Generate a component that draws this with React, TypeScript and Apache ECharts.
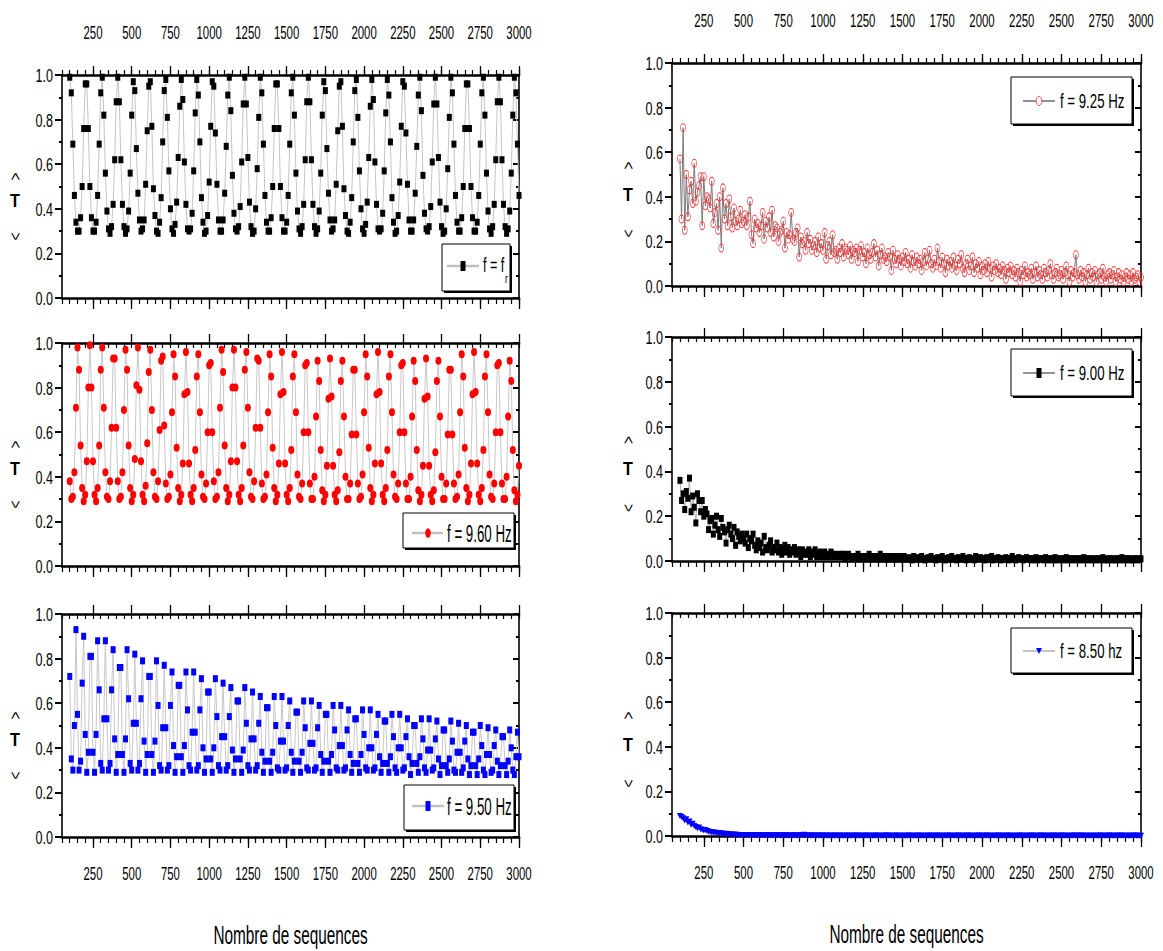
import React, { useEffect, useRef } from "react";
import * as echarts from "echarts";

const FONT = "'Liberation Sans', Arial, sans-serif";

const X_MIN = 50;
const X_MAX = 3000;
const X_FIRST = 100;
const X_STEP = 10;

const X_MAJOR_TICKS = [250, 500, 750, 1000, 1250, 1500, 1750, 2000, 2250, 2500, 2750, 3000];
const X_TICK_LABELS = ["250", "500", "750", "1000", "1250", "1500", "1750", "2000", "2250", "2500", "2750", "3000"];
const X_MINOR_TICKS = [
  50, 100, 150, 200, 250, 300, 350, 400, 450, 500, 550, 600, 650, 700, 750, 800, 850, 900, 950, 1000,
  1050, 1100, 1150, 1200, 1250, 1300, 1350, 1400, 1450, 1500, 1550, 1600, 1650, 1700, 1750, 1800, 1850, 1900, 1950, 2000,
  2050, 2100, 2150, 2200, 2250, 2300, 2350, 2400, 2450, 2500, 2550, 2600, 2650, 2700, 2750, 2800, 2850, 2900, 2950, 3000,
];
const Y_TICKS = [0, 0.2, 0.4, 0.6, 0.8, 1.0];
const Y_TICK_LABELS = ["0.0", "0.2", "0.4", "0.6", "0.8", "1.0"];

const SERIES_NAMES = ["f = fr", "f = 9.60 Hz", "f = 9.50 Hz", "f = 9.25 Hz", "f = 9.00 Hz", "f = 8.50 hz"];
const X_AXIS_TITLE = "Nombre de sequences";

// f = fr (top left)
const tFr = [
  0.99,0.92,0.69,0.46,0.34,0.30,0.30,0.36,0.50,0.76,0.96,0.96,0.76,0.50,0.36,0.30,0.30,0.34,0.46,0.69,0.92,0.99,0.82,0.56,0.39,0.31,0.29,0.32,0.42,0.62,0.88,0.99,0.88,0.62,0.42,0.32,0.29,0.31,0.39,0.56,0.82,
  0.97,0.93,0.67,0.47,0.35,0.30,0.31,0.35,0.51,0.75,0.95,0.97,0.77,0.49,0.37,0.30,0.29,0.34,0.45,0.70,0.93,0.98,0.81,0.57,0.40,0.31,0.29,0.33,0.43,0.63,0.86,0.98,0.89,0.61,0.42,0.31,0.30,0.31,0.38,0.57,0.83,
  0.98,0.91,0.70,0.45,0.34,0.29,0.30,0.37,0.52,0.77,0.97,0.95,0.74,0.51,0.35,0.30,0.30,0.35,0.47,0.68,0.91,0.99,0.84,0.55,0.38,0.31,0.30,0.32,0.41,0.61,0.87,0.99,0.87,0.63,0.43,0.32,0.29,0.30,0.40,0.58,0.81,
  0.99,0.92,0.69,0.46,0.34,0.30,0.30,0.36,0.50,0.76,0.96,0.96,0.76,0.50,0.36,0.30,0.30,0.34,0.46,0.69,0.92,0.99,0.82,0.56,0.39,0.31,0.29,0.32,0.42,0.62,0.88,0.99,0.88,0.62,0.42,0.32,0.29,0.31,0.39,0.56,0.82,
  0.97,0.93,0.67,0.47,0.35,0.30,0.31,0.35,0.51,0.75,0.95,0.97,0.77,0.49,0.37,0.30,0.29,0.34,0.45,0.70,0.93,0.98,0.81,0.57,0.40,0.31,0.29,0.33,0.43,0.63,0.86,0.98,0.89,0.61,0.42,0.31,0.30,0.31,0.38,0.57,0.83,
  0.98,0.91,0.70,0.45,0.34,0.29,0.30,0.37,0.52,0.77,0.97,0.95,0.74,0.51,0.35,0.30,0.30,0.35,0.47,0.68,0.91,0.99,0.84,0.55,0.38,0.31,0.30,0.32,0.41,0.61,0.87,0.99,0.87,0.63,0.43,0.32,0.29,0.30,0.40,0.58,0.81,
  0.99,0.92,0.69,0.46,0.34,0.30,0.30,0.36,0.50,0.76,0.96,0.96,0.76,0.50,0.36,0.30,0.30,0.34,0.46,0.69,0.92,0.99,0.82,0.56,0.39,0.31,0.29,0.32,0.42,0.62,0.88,0.99,0.88,0.62,0.42,0.32,0.29,0.31,0.39,0.56,0.82,
  0.99,0.92,0.69,0.46,
];

// f = 9.60 Hz (middle left)
const t960 = [
  0.38,0.30,0.31,0.42,0.71,0.98,0.88,0.54,0.35,0.29,0.32,0.47,0.80,0.99,0.80,0.47,0.32,0.29,0.35,0.54,0.88,0.98,0.71,0.42,0.31,0.30,0.38,0.62,0.93,0.93,0.62,
  0.38,0.30,0.31,0.42,0.70,0.97,0.88,0.54,0.35,0.29,0.32,0.48,0.81,0.98,0.79,0.47,0.32,0.29,0.36,0.55,0.87,0.97,0.70,0.42,0.31,0.30,0.38,0.61,0.92,0.94,0.63,
  0.37,0.30,0.31,0.41,0.69,0.95,0.85,0.53,0.35,0.29,0.32,0.46,0.77,0.96,0.78,0.46,0.32,0.29,0.35,0.52,0.85,0.95,0.69,0.41,0.31,0.30,0.37,0.60,0.90,0.91,0.60,
  0.38,0.30,0.31,0.42,0.71,0.97,0.87,0.54,0.35,0.29,0.32,0.47,0.80,0.97,0.80,0.47,0.32,0.29,0.35,0.54,0.88,0.96,0.71,0.42,0.31,0.30,0.38,0.62,0.93,0.92,0.62,
  0.37,0.30,0.31,0.41,0.69,0.95,0.85,0.53,0.35,0.29,0.32,0.46,0.77,0.96,0.78,0.46,0.32,0.29,0.35,0.52,0.85,0.95,0.69,0.41,0.31,0.30,0.37,0.60,0.90,0.91,0.60,
  0.37,0.30,0.30,0.40,0.67,0.92,0.83,0.52,0.34,0.29,0.32,0.45,0.75,0.93,0.76,0.45,0.32,0.29,0.34,0.51,0.83,0.92,0.67,0.40,0.30,0.30,0.37,0.59,0.88,0.88,0.59,
  0.37,0.30,0.31,0.41,0.69,0.95,0.85,0.53,0.35,0.29,0.32,0.46,0.77,0.96,0.78,0.46,0.32,0.29,0.35,0.52,0.85,0.95,0.69,0.41,0.31,0.30,0.37,0.60,0.90,0.91,0.60,
  0.37,0.30,0.30,0.40,0.67,0.92,0.83,0.52,0.34,0.29,0.32,0.45,0.75,0.93,0.76,0.45,0.32,0.29,0.34,0.51,0.83,0.92,0.67,0.40,0.30,0.30,0.37,0.59,0.88,0.88,0.59,
  0.37,0.30,0.31,0.41,0.69,0.95,0.85,0.53,0.35,0.29,0.32,0.46,0.77,0.96,0.78,0.46,0.32,0.29,0.35,0.52,0.85,0.95,0.69,0.41,0.31,0.30,0.37,0.60,0.90,0.91,0.60,
  0.37,0.30,0.30,0.40,0.67,0.92,0.83,0.52,0.34,0.29,0.32,0.45,
];

// f = 9.50 Hz (bottom left)
const t950 = [
  0.72,0.35,0.30,0.50,0.93,0.55,0.30,0.34,0.69,0.90,0.46,0.29,0.38,0.81,0.81,0.38,0.29,0.46,0.88,
  0.66,0.33,0.30,0.53,0.88,0.53,0.30,0.33,0.66,0.84,0.44,0.29,0.37,0.76,0.76,0.37,0.29,0.44,0.84,
  0.62,0.33,0.30,0.51,0.82,0.51,0.30,0.33,0.62,0.79,0.43,0.29,0.37,0.72,0.72,0.37,0.29,0.43,0.79,
  0.59,0.32,0.30,0.49,0.77,0.49,0.30,0.32,0.59,0.74,0.41,0.29,0.36,0.68,0.68,0.36,0.29,0.41,0.74,
  0.57,0.32,0.30,0.47,0.74,0.47,0.30,0.32,0.57,0.71,0.40,0.29,0.35,0.65,0.65,0.35,0.29,0.40,0.71,
  0.54,0.32,0.30,0.45,0.69,0.45,0.30,0.32,0.54,0.67,0.39,0.29,0.35,0.61,0.61,0.35,0.29,0.39,0.67,
  0.51,0.32,0.30,0.44,0.65,0.44,0.30,0.32,0.51,0.63,0.38,0.29,0.34,0.58,0.58,0.34,0.29,0.38,0.63,
  0.50,0.31,0.30,0.43,0.63,0.43,0.30,0.31,0.50,0.61,0.38,0.29,0.34,0.56,0.56,0.34,0.29,0.38,0.61,
  0.49,0.31,0.30,0.42,0.61,0.42,0.30,0.31,0.49,0.59,0.37,0.29,0.34,0.55,0.55,0.34,0.29,0.37,0.59,
  0.48,0.31,0.30,0.41,0.59,0.41,0.30,0.31,0.48,0.57,0.37,0.29,0.33,0.53,0.53,0.33,0.29,0.37,0.57,
  0.46,0.31,0.30,0.40,0.57,0.40,0.30,0.31,0.46,0.55,0.36,0.29,0.33,0.52,0.52,0.33,0.29,0.36,0.55,
  0.45,0.31,0.29,0.40,0.55,0.40,0.30,0.31,0.45,0.53,0.36,0.28,0.33,0.50,0.50,0.33,0.29,0.36,0.53,
  0.44,0.31,0.29,0.39,0.53,0.39,0.30,0.31,0.44,0.52,0.35,0.28,0.32,0.48,0.48,0.32,0.29,0.35,0.52,
  0.43,0.30,0.29,0.38,0.51,0.38,0.29,0.31,0.43,0.50,0.35,0.28,0.32,0.47,0.47,0.32,0.28,0.35,0.50,
  0.41,0.30,0.28,0.37,0.49,0.37,0.29,0.30,0.41,0.48,0.34,0.28,0.32,0.45,0.45,0.32,0.28,0.34,0.48,
  0.40,0.30,0.28,0.36,0.47,0.36,
];

// f = 9.25 Hz (top right)
const t925 = [
  0.57,0.30,0.71,0.25,0.50,0.31,0.43,0.47,0.37,0.55,
  0.38,0.42,0.45,0.49,0.27,0.49,0.36,0.40,0.39,0.35,
  0.47,0.28,0.33,0.37,0.25,0.40,0.17,0.44,0.30,0.37,
  0.27,0.39,0.31,0.26,0.35,0.29,0.27,0.30,0.34,0.28,
  0.29,0.32,0.27,0.31,0.38,0.23,0.19,0.30,0.26,0.28,
  0.24,0.27,0.33,0.21,0.29,0.26,0.31,0.24,0.34,0.22,
  0.27,0.26,0.20,0.24,0.25,0.29,0.17,0.24,0.21,0.23,
  0.33,0.21,0.20,0.24,0.26,0.13,0.22,0.19,0.20,0.16,
  0.24,0.19,0.21,0.16,0.18,0.20,0.15,0.22,0.17,0.19,
  0.16,0.24,0.12,0.18,0.20,0.14,0.23,0.15,0.16,0.12,
  0.17,0.15,0.19,0.13,0.17,0.16,0.14,0.18,0.12,0.16,
  0.15,0.17,0.11,0.16,0.18,0.13,0.15,0.10,0.17,0.14,
  0.12,0.15,0.19,0.13,0.16,0.09,0.14,0.17,0.12,0.13,
  0.11,0.15,0.13,0.07,0.16,0.12,0.10,0.14,0.12,0.09,
  0.13,0.11,0.15,0.10,0.12,0.08,0.14,0.11,0.09,0.13,
  0.10,0.12,0.07,0.11,0.15,0.09,0.12,0.16,0.10,0.08,
  0.12,0.09,0.17,0.11,0.08,0.13,0.10,0.06,0.12,0.09,
  0.11,0.08,0.13,0.09,0.07,0.12,0.10,0.14,0.08,0.06,
  0.10,0.12,0.07,0.09,0.13,0.06,0.10,0.08,0.11,0.05,
  0.09,0.07,0.10,0.06,0.11,0.08,0.04,0.09,0.07,0.10,
  0.06,0.08,0.05,0.09,0.07,0.03,0.08,0.06,0.09,0.05,
  0.07,0.04,0.08,0.06,0.02,0.07,0.05,0.09,0.04,0.06,
  0.05,0.08,0.03,0.06,0.09,0.04,0.07,0.05,0.03,0.08,
  0.06,0.04,0.07,0.10,0.05,0.03,0.06,0.08,0.04,0.05,
  0.07,0.03,0.06,0.09,0.05,0.02,0.07,0.04,0.06,0.14,
  0.05,0.03,0.07,0.04,0.06,0.02,0.05,0.08,0.03,0.06,
  0.04,0.07,0.02,0.05,0.06,0.03,0.08,0.04,0.02,0.05,
  0.06,0.03,0.05,0.07,0.02,0.04,0.06,0.03,0.05,0.02,
  0.04,0.06,0.03,0.05,0.02,0.06,0.03,0.04,0.05,0.02,
  0.04,
];

// f = 9.00 Hz (middle right)
const t900 = [
  0.36,0.27,0.30,0.23,0.31,0.28,0.37,0.22,0.29,0.24,
  0.17,0.30,0.27,0.22,0.27,0.20,0.23,0.21,0.14,0.18,
  0.19,0.12,0.16,0.20,0.14,0.11,0.19,0.15,0.13,0.08,
  0.14,0.16,0.12,0.10,0.15,0.07,0.13,0.11,0.09,0.12,
  0.10,0.08,0.12,0.06,0.10,0.09,0.12,0.07,0.05,0.09,
  0.06,0.08,0.04,0.11,0.06,0.05,0.07,0.09,0.04,0.06,
  0.05,0.08,0.04,0.06,0.03,0.05,0.07,0.04,0.06,0.03,
  0.05,0.04,0.06,0.03,0.05,0.04,0.02,0.05,0.03,0.04,
  0.03,0.05,0.02,0.04,0.03,0.05,0.02,0.03,0.04,0.02,
  0.03,0.04,0.02,0.03,0.02,0.04,0.03,0.02,0.03,0.02,
  0.02,0.03,0.02,0.03,0.01,0.02,0.03,0.02,0.01,0.02,
  0.02,0.01,0.03,0.02,0.01,0.02,0.02,0.01,0.02,0.03,
  0.01,0.02,0.01,0.02,0.02,0.01,0.03,0.01,0.02,0.01,
  0.02,0.01,0.01,0.02,0.01,0.02,0.01,0.01,0.02,0.01,
  0.01,0.02,0.01,0.01,0.015,0.01,0.005,0.02,0.01,0.01,
  0.015,0.01,0.02,0.01,0.005,0.01,0.015,0.01,0.02,0.01,
  0.01,0.005,0.015,0.01,0.01,0.02,0.01,0.005,0.01,0.015,
  0.01,0.02,0.01,0.01,0.005,0.015,0.01,0.01,0.02,0.01,
  0.005,0.01,0.015,0.01,0.01,0.005,0.02,0.01,0.01,0.015,
  0.01,0.01,0.005,0.015,0.01,0.01,0.02,0.005,0.01,0.01,
  0.015,0.01,0.005,0.01,0.01,0.015,0.01,0.005,0.01,0.02,
  0.01,0.005,0.01,0.015,0.01,0.01,0.005,0.01,0.015,0.01,
  0.01,0.01,0.005,0.01,0.015,0.005,0.01,0.01,0.01,0.005,
  0.015,0.01,0.005,0.01,0.01,0.005,0.015,0.01,0.005,0.01,
  0.01,0.005,0.01,0.015,0.005,0.01,0.01,0.005,0.01,0.01,
  0.005,0.01,0.01,0.005,0.015,0.01,0.005,0.01,0.01,0.005,
  0.01,0.005,0.01,0.01,0.005,0.01,0.015,0.005,0.01,0.005,
  0.01,0.01,0.005,0.01,0.005,0.01,0.01,0.005,0.015,0.01,
  0.005,0.01,0.01,0.005,0.01,0.005,0.01,0.01,0.005,0.01,
  0.01,
];

// f = 8.50 hz (bottom right)
const t850 = [
  0.09,0.085,0.08,0.07,0.075,0.06,0.065,0.05,0.055,0.045,
  0.04,0.035,0.038,0.03,0.028,0.025,0.027,0.022,0.02,0.018,
  0.017,0.015,0.016,0.013,0.012,0.014,0.011,0.01,0.009,0.01,
  0.008,0.008,0.007,0.007,0.006,0.006,0.006,0.005,0.005,0.005,
  0.004,0.005,0.004,0.004,0.003,0.004,0.004,0.003,0.003,0.004,
  0.003,0.003,0.004,0.003,0.003,0.002,0.003,0.003,0.002,0.003,
  0.003,0.002,0.003,0.002,0.002,0.003,0.002,0.002,0.002,0.002,
  0.002,0.002,0.003,0.002,0.002,0.002,0.003,0.004,0.006,0.003,
  0.002,0.002,0.002,0.001,0.002,0.002,0.001,0.002,0.002,0.001,
  0.002,0.001,0.002,0.001,0.001,0.002,0.001,0.001,0.002,0.001,
  0.001,0.002,0.001,0.001,0.001,0.002,0.001,0.001,0.001,0.002,
  0.001,0.001,0.002,0.001,0.001,0.001,0.001,0.002,0.001,0.001,
  0.001,0.001,0.001,0.002,0.001,0.001,0.001,0.001,0.001,0.002,
  0.001,0.002,0.001,0.001,0.001,0.001,0.002,0.001,0.001,0.001,
  0.001,0.001,0.001,0.001,0.002,0.001,0.001,0.001,0.001,0.001,
  0.002,0.001,0.001,0.001,0.001,0.001,0.001,0.002,0.001,0.001,
  0.001,0.001,0.002,0.001,0.001,0.001,0.001,0.001,0.001,0.002,
  0.001,0.001,0.001,0.001,0.001,0.002,0.001,0.001,0.001,0.001,
  0.001,0.002,0.001,0.001,0.001,0.001,0.001,0.001,0.002,0.001,
  0.001,0.001,0.001,0.002,0.001,0.001,0.001,0.001,0.001,0.001,
  0.002,0.001,0.001,0.001,0.001,0.001,0.002,0.001,0.001,0.001,
  0.001,0.001,0.001,0.001,0.002,0.001,0.001,0.001,0.001,0.001,
  0.001,0.002,0.001,0.001,0.001,0.001,0.001,0.002,0.001,0.001,
  0.001,0.001,0.001,0.001,0.001,0.002,0.001,0.001,0.001,0.001,
  0.002,0.001,0.001,0.001,0.001,0.001,0.001,0.001,0.002,0.001,
  0.001,0.001,0.002,0.001,0.001,0.001,0.001,0.001,0.001,0.001,
  0.001,0.001,0.001,0.001,0.002,0.001,0.001,0.001,0.001,0.001,
  0.002,0.001,0.001,0.001,0.001,0.001,0.001,0.002,0.001,0.001,
  0.001,0.001,0.001,0.001,0.001,0.001,0.002,0.001,0.001,0.001,
  0.001,
];

const SERIES_VALUES = [tFr, t960, t950, t925, t900, t850];

const ELLIPSE = "path://M5,0A5,5 0 1,1 5,10A5,5 0 1,1 5,0Z";
const TRI_DOWN = "path://M0,0L10,0L5,9Z";

const STYLES = [
  { symbol: "rect", size: [5, 7], fill: "#000000", border: "#000000", line: "#c4c4c4", kind: "rect", legendLine: "#c0c0c0" },
  { symbol: ELLIPSE, size: [6, 8], fill: "#ff0000", border: "#ff0000", line: "#c8c8c8", kind: "ellipse", legendLine: "#c0c0c0" },
  { symbol: "rect", size: [5, 7], fill: "#0000ff", border: "#0000ff", line: "#c8c8c8", kind: "rect", legendLine: "#c0c0c0" },
  { symbol: ELLIPSE, size: [5, 8], fill: "rgba(255,255,255,0)", border: "#ff3030", line: "#7c7c7c", kind: "hollow", legendLine: "#6a6a6a" },
  { symbol: "rect", size: [5, 7], fill: "#000000", border: "#000000", line: "#b0b0b0", kind: "rect", legendLine: "#707070" },
  { symbol: TRI_DOWN, size: [6, 6], fill: "#0000ff", border: "#0000ff", line: "#b4b4b4", kind: "tri", legendLine: "#b0b0b0" },
];

const LAYOUT = [
  { left: 62, top: 75, width: 457, height: 223, topLabels: true, bottomLabels: false },
  { left: 62, top: 343, width: 457, height: 223, topLabels: false, bottomLabels: false },
  { left: 62, top: 614, width: 457, height: 223, topLabels: false, bottomLabels: true },
  { left: 672, top: 63, width: 469, height: 223, topLabels: true, bottomLabels: false },
  { left: 672, top: 337, width: 469, height: 224, topLabels: false, bottomLabels: false },
  { left: 672, top: 613, width: 469, height: 223, topLabels: false, bottomLabels: true },
];

const LEGEND_BOXES = [
  { x: 442, y: 244, w: 68, h: 47, cy: 22, l0: 5, l1: 37, sx: 21, tx: 41, fs: 21, sc: 0.6 },
  { x: 403, y: 513, w: 111, h: 35, cy: 20, l0: 9, l1: 40, sx: 25, tx: 44, fs: 24, sc: 0.555 },
  { x: 404, y: 785, w: 110, h: 45, cy: 21, l0: 8, l1: 40, sx: 24, tx: 43, fs: 24, sc: 0.555 },
  { x: 1011, y: 77, w: 121, h: 47, cy: 24, l0: 12, l1: 44, sx: 28, tx: 49, fs: 21, sc: 0.63 },
  { x: 1011, y: 349, w: 121, h: 47, cy: 24, l0: 12, l1: 44, sx: 28, tx: 49, fs: 21, sc: 0.63 },
  { x: 1011, y: 628, w: 121, h: 45, cy: 23, l0: 12, l1: 44, sx: 28, tx: 49, fs: 21, sc: 0.63 },
];

const TXT_SCALE = 0.6;

function txt(text: string, x: number, y: number, size: number, scaleX: number, align: string, extra: any = {}) {
  return {
    type: "text",
    x,
    y,
    scaleX,
    z: 100,
    silent: true,
    ...extra,
    style: {
      text,
      fill: "#000",
      font: `${extra.weight || "normal"} ${size}px ${FONT}`,
      textAlign: align,
      align,
      textVerticalAlign: "middle",
      verticalAlign: "middle",
      ...(extra.style || {}),
    },
  };
}

function buildOption() {
  const grid: any[] = [];
  const xAxis: any[] = [];
  const yAxis: any[] = [];
  const series: any[] = [];

  LAYOUT.forEach((L, i) => {
    grid.push({ left: L.left, top: L.top, width: L.width, height: L.height, containLabel: false, show: false });
    const base = { gridIndex: i, type: "value", min: X_MIN, max: X_MAX, splitLine: { show: false } };
    // bottom: major + minor ticks, outward
    xAxis.push({
      ...base,
      position: "bottom",
      axisLine: { show: true, onZero: false, lineStyle: { color: "#000", width: 2.5 } },
      axisTick: { show: true, customValues: X_MAJOR_TICKS, length: 11, lineStyle: { color: "#000", width: 1.3 } },
      axisLabel: { show: false },
    });
    xAxis.push({
      ...base,
      position: "bottom",
      axisLine: { show: false, onZero: false },
      axisTick: { show: true, customValues: X_MINOR_TICKS, length: 6, lineStyle: { color: "#000", width: 1.2 } },
      axisLabel: { show: false },
    });
    // top: major outward, minor outward on labelled top panels, inward elsewhere
    xAxis.push({
      ...base,
      position: "top",
      axisLine: { show: true, onZero: false, lineStyle: { color: "#000", width: 2.5 } },
      axisTick: { show: true, customValues: X_MAJOR_TICKS, length: 9, lineStyle: { color: "#000", width: 1.3 } },
      axisLabel: { show: false },
    });
    xAxis.push({
      ...base,
      position: "top",
      axisLine: { show: false, onZero: false },
      axisTick: { show: true, inside: !L.topLabels, customValues: X_MINOR_TICKS, length: 5, lineStyle: { color: "#000", width: 1.2 } },
      axisLabel: { show: false },
    });

    yAxis.push({
      gridIndex: i, type: "value", min: 0, max: 1, interval: 0.2, position: "left",
      splitLine: { show: false },
      axisLine: { show: true, onZero: false, lineStyle: { color: "#000", width: 1.6 } },
      axisTick: { show: true, length: 7, lineStyle: { color: "#000", width: 2 } },
      minorTick: { show: true, splitNumber: 2, length: 3, lineStyle: { color: "#000", width: 2 } },
      axisLabel: { show: false },
    });
    yAxis.push({
      gridIndex: i, type: "value", min: 0, max: 1, interval: 0.2, position: "right",
      splitLine: { show: false },
      axisLine: { show: true, onZero: false, lineStyle: { color: "#000", width: 1.6 } },
      axisTick: { show: true, inside: true, length: 6, lineStyle: { color: "#000", width: 2 } },
      minorTick: { show: true, splitNumber: 2, length: 3, lineStyle: { color: "#000", width: 2 } },
      axisLabel: { show: false },
    });

    const st = STYLES[i];
    const vals = SERIES_VALUES[i];
    series.push({
      type: "line",
      name: SERIES_NAMES[i],
      xAxisIndex: i * 4,
      yAxisIndex: i * 2,
      data: vals.map((v, k) => [X_FIRST + k * X_STEP, v]),
      symbol: st.symbol,
      symbolSize: st.size,
      showSymbol: true,
      showAllSymbol: true,
      lineStyle: { color: st.line, width: 1 },
      itemStyle: { color: st.fill, borderColor: st.border, borderWidth: st.kind === "hollow" ? 0.8 : 0 },
      emphasis: { disabled: true },
      silent: true,
      clip: true,
      z: 3,
    });
  });

  return { animation: false, backgroundColor: "#ffffff", grid, xAxis, yAxis, series };
}

function legendSymbol(kind: string, cx: number, cy: number, color: string) {
  if (kind === "rect") return { type: "rect", z: 102, silent: true, shape: { x: cx - 2.5, y: cy - 5, width: 5, height: 10 }, style: { fill: color } };
  if (kind === "ellipse") return { type: "ellipse", z: 102, silent: true, shape: { cx, cy, rx: 2.8, ry: 4.8 }, style: { fill: color } };
  if (kind === "hollow") return { type: "ellipse", z: 102, silent: true, shape: { cx, cy, rx: 2.8, ry: 4.6 }, style: { fill: "#fff", stroke: color, lineWidth: 0.8 } };
  return { type: "polygon", z: 102, silent: true, shape: { points: [[cx - 3, cy - 3], [cx + 3, cy - 3], [cx, cy + 3]] }, style: { fill: color } };
}

function buildGraphics(chart: any) {
  const g: any[] = [];
  LAYOUT.forEach((L, i) => {
    const xi = i * 4;
    const yi = i * 2;
    const yBottom = chart.convertToPixel({ yAxisIndex: yi }, 0);
    const yTop = chart.convertToPixel({ yAxisIndex: yi }, 1);
    const xLeft = chart.convertToPixel({ xAxisIndex: xi }, X_MIN);
    const xRight = chart.convertToPixel({ xAxisIndex: xi }, X_MAX);

    if (L.topLabels || L.bottomLabels) {
      X_MAJOR_TICKS.forEach((v, k) => {
        const px = chart.convertToPixel({ xAxisIndex: xi }, v);
        const py = L.topLabels ? yTop - 43 : yBottom + 36;
        g.push(txt(X_TICK_LABELS[k], px, py, 19, TXT_SCALE, "center"));
      });
    }
    Y_TICKS.forEach((v, k) => {
      const py = chart.convertToPixel({ yAxisIndex: yi }, v);
      g.push(txt(Y_TICK_LABELS[k], xLeft - 9, py, 19, 0.66, "right"));
    });

    // y axis title "< T >": brackets turned, T upright
    const cy = (yTop + yBottom) / 2;
    const nx = i < 3 ? xLeft - 47 : xLeft - 44;
    const off = i < 3 ? [-10, 14, 50] : [-9, 20, 59];
    g.push(txt(">", nx, cy + off[0], 17, 0.8, "center", { rotation: Math.PI / 2 }));
    g.push(txt("T", nx, cy + off[1], 19, 0.85, "center", { weight: "bold" }));
    g.push(txt("<", nx, cy + off[2], 17, 0.8, "center", { rotation: Math.PI / 2 }));

    if (L.bottomLabels) {
      g.push(txt(X_AXIS_TITLE, (xLeft + xRight) / 2, yBottom + 98, 26, 0.59, "center"));
    }

    // legend frame with offset shadow
    const B = LEGEND_BOXES[i];
    const st = STYLES[i];
    g.push({ type: "rect", z: 100, silent: true, shape: { x: B.x + 2, y: B.y + 2, width: B.w, height: B.h }, style: { fill: "#000" } });
    g.push({ type: "rect", z: 101, silent: true, shape: { x: B.x, y: B.y, width: B.w, height: B.h }, style: { fill: "#fff", stroke: "#000", lineWidth: 1 } });
    g.push({ type: "line", z: 102, silent: true, shape: { x1: B.x + B.l0, y1: B.y + B.cy, x2: B.x + B.l1, y2: B.y + B.cy }, style: { stroke: st.legendLine, lineWidth: i < 3 ? 2.5 : 1.5 } });
    g.push(legendSymbol(st.kind, B.x + B.sx, B.y + B.cy, st.kind === "hollow" ? st.border : st.fill));
    if (i === 0) {
      g.push(txt("f = f", B.x + B.tx, B.y + B.cy - 1, B.fs, B.sc, "left", { z: 103 }));
      g.push(txt("r", B.x + B.tx + 22, B.y + B.cy + 13, 12, 0.7, "left", { z: 103 }));
    } else {
      g.push(txt(SERIES_NAMES[i], B.x + B.tx, B.y + B.cy, B.fs, B.sc, "left", { z: 103 }));
    }
  });
  return g;
}

export default function App() {
  const ref = useRef<HTMLDivElement>(null);
  useEffect(() => {
    if (!ref.current) return;
    const chart = echarts.init(ref.current, undefined, { renderer: "svg" });
    chart.setOption(buildOption() as any);
    chart.setOption({ graphic: buildGraphics(chart) } as any);
    return () => chart.dispose();
  }, []);
  return (
    <div
      ref={ref}
      style={{ position: "absolute", left: 0, top: 0, width: 1163, height: 951, background: "#fff" }}
    />
  );
}
